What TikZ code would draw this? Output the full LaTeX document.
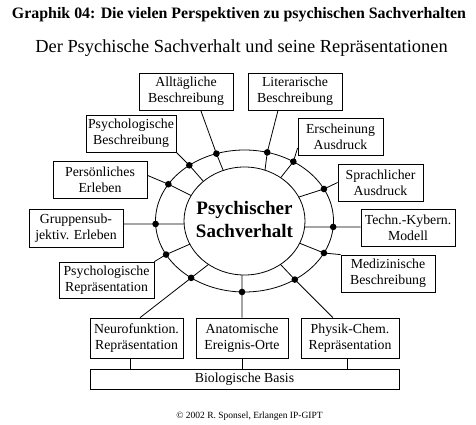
\documentclass[tikz,border=0pt]{standalone}
\usepackage{fontspec}
\setmainfont{Liberation Serif}
\usetikzlibrary{calc}
\begin{document}
\begin{tikzpicture}[x=1pt,y=-1pt,
  box/.style={draw, line width=0.8pt, inner sep=0pt, align=center,
    font=\fontsize{13.8}{16}\selectfont},
  conn/.style={line width=0.8pt},
  dotmark/.style={fill=black}]
\useasboundingbox (0,0) rectangle (476,425);

% titles
\node[anchor=base, font=\fontsize{15.9}{18}\selectfont\bfseries] (title) at (239,18.5)
  {Graphik 04: Die vielen Perspektiven zu psychischen Sachverhalten};
\node[anchor=base, font=\fontsize{18.4}{22}\selectfont] (sub) at (241.5,53)
  {Der Psychische Sachverhalt und seine Repräsentationen};

% ellipses
\draw[conn] (244.5,221) ellipse [x radius=89pt, y radius=71pt];
\draw[conn] (244.5,221) ellipse [x radius=60.5pt, y radius=54pt];
\node[font=\fontsize{19}{23}\selectfont\bfseries, align=center] (center) at (244.5,219)
  {Psychischer\\Sachverhalt};

% boxes
\node[box, minimum width=94pt, minimum height=37pt] (allt) at (186,91.5) {Alltägliche\\Beschreibung};
\node[box, minimum width=94pt, minimum height=37pt] (lit) at (295,91.5) {Literarische\\Beschreibung};
\node[box, minimum width=90pt, minimum height=37pt] (psyb) at (131,133.5) {Psychologische\\Beschreibung};
\node[box, minimum width=85pt, minimum height=37pt] (ersch) at (340.5,136.5) {Erscheinung\\Ausdruck};
\node[box, minimum width=94pt, minimum height=37pt] (pers) at (100,179.5) {Persönliches\\Erleben};
\node[box, minimum width=85pt, minimum height=37pt] (sprach) at (380.5,182.5) {Sprachlicher\\Ausdruck};
\node[box, minimum width=94pt, minimum height=38pt] (grupp) at (76,228) {Gruppensub-\\jektiv. Erleben};
\node[box, minimum width=94pt, minimum height=37pt] (techn) at (408,227.5) {Techn.-Kybern.\\Modell};
\node[box, minimum width=95pt, minimum height=36pt] (psyr) at (106.5,280) {Psychologische\\Repräsentation};
\node[box, minimum width=94pt, minimum height=37pt] (med) at (388,273.5) {Medizinische\\Beschreibung};
\node[box, minimum width=93pt, minimum height=40pt] (neuro) at (136.5,338) {Neurofunktion.\\Repräsentation};
\node[box, minimum width=92pt, minimum height=40pt] (anat) at (242,338) {Anatomische\\Ereignis-Orte};
\node[box, minimum width=98pt, minimum height=40pt] (phys) at (350,338) {Physik-Chem.\\Repräsentation};
\node[box, minimum width=309pt, minimum height=20pt] (bio) at (244.5,379) {Biologische Basis};

% points on the outer (o) and inner (i) ellipse
\foreach \n/\a/\b in {allt/108.4/110.6, lit/75.2/70.2, ersch/56.7/53.3, sprach/26.8/26.3,
  techn/-4.8/-6.4, med/-26.8/-24.3, phys/-55.6/-53.5, anat/-91.6/-92.4,
  neuro/-126.8/-126.5, psyr/-151.8/-154.6, grupp/182.4/183.2, pers/148.8/151.9,
  psyb/128.3/132.8}{
  \coordinate (o\n) at ({244.5+89*cos(\a)},{221-71*sin(\a)});
  \coordinate (i\n) at ({244.5+60.5*cos(\b)},{221-54*sin(\b)});
}

% connectors
\draw[conn] (allt.-52.9) -- (oallt) -- (iallt);
\draw[conn] (lit.-132.6) -- (olit) -- (ilit);
\draw[conn] (psyb.south east) -- (opsyb) -- (ipsyb);
\draw[conn] (ersch.195.1) -- (oersch) -- (iersch);
\draw[conn] (pers.5.5) -- (opers) -- (ipers);
\draw[conn] (sprach.west) -- (osprach) -- (isprach);
\draw[conn] (grupp.east |- ogrupp) -- (ogrupp) -- (igrupp);
\draw[conn] (techn.west |- otechn) -- (otechn) -- (itechn);
\draw[conn] (psyr.north east) -- (opsyr) -- (ipsyr);
\draw[conn] (med.north west) -- (omed) -- (imed);
\draw[conn] (neuro.80) -- (oneuro) -- (ineuro);
\draw[conn] (anat.north) -- (oanat) -- (ianat);
\draw[conn] (phys.130.4) -- (ophys) -- (iphys);

% to the biological basis
\draw[conn] ([xshift=-6.5pt]neuro.south) -- ([xshift=-6.5pt]neuro.south |- bio.north);
\draw[conn] (anat.south) -- (anat.south |- bio.north);
\draw[conn] ([xshift=-3pt]phys.south) -- ([xshift=-3pt]phys.south |- bio.north);

% dots
\foreach \n in {allt,lit,ersch,sprach,techn,med,phys,anat,neuro,psyr,grupp,pers,psyb}{
  \fill[dotmark] (o\n) circle (3.3pt);
}

% copyright
\node[anchor=base, font=\fontsize{9.5}{11}\selectfont] (copy) at (249.5,418)
  {© 2002 R. Sponsel, Erlangen IP-GIPT};
\end{tikzpicture}
\end{document}
